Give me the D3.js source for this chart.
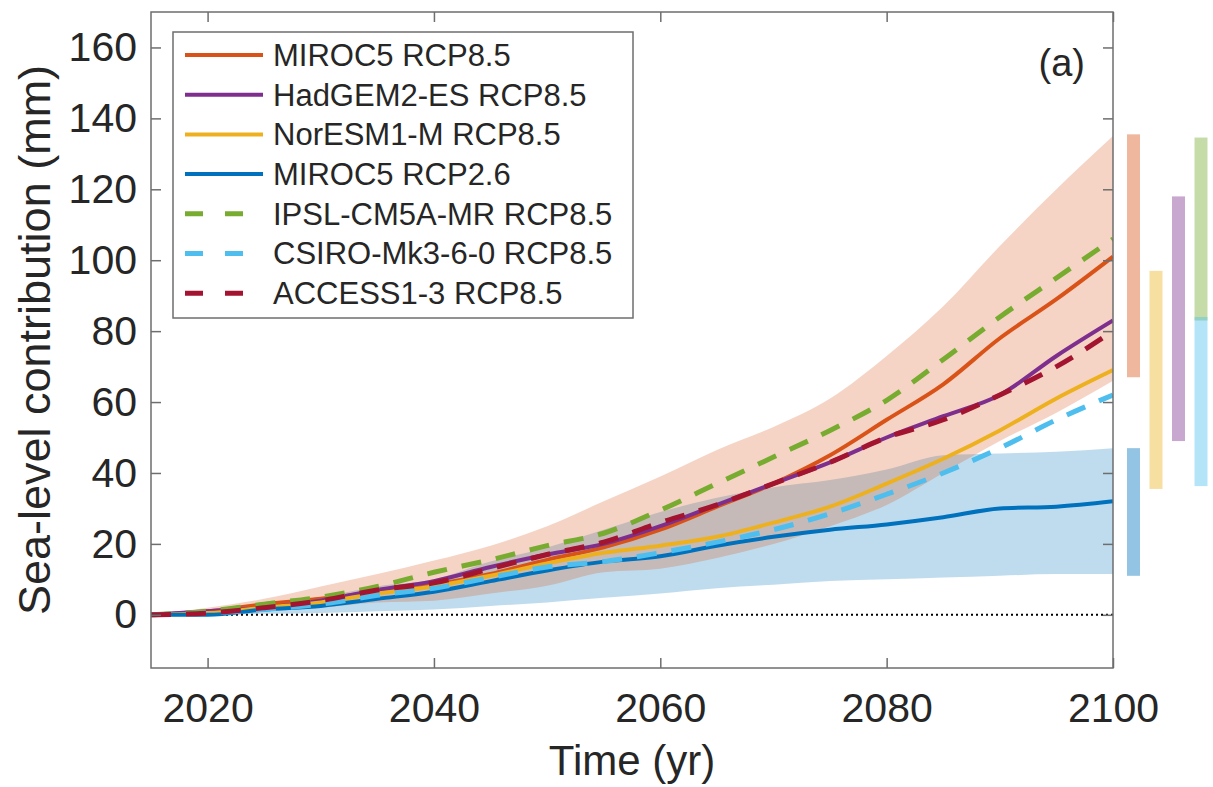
<!DOCTYPE html>
<html>
<head>
<meta charset="utf-8">
<script src="https://cdn.jsdelivr.net/npm/d3@7"></script>
<style>
  body { margin: 0; background: #fff; }
  svg { display: block; }
  text { font-family: "Liberation Sans", Arial, Helvetica, sans-serif; fill: #262626; }
</style>
</head>
<body>
<div id="chart"></div>
<script>
// values (mm), every 5 years
const years = [2015, 2020, 2025, 2030, 2035, 2040, 2045, 2050, 2055, 2060, 2065, 2070, 2075, 2080, 2085, 2090, 2095, 2100];

const miroc85  = [0, 1, 3, 4.5, 6.5, 8.5, 11.5, 15.5, 19, 24, 30.5, 37, 45, 55, 65, 78, 89, 101];
const hadgem85 = [0, 1, 2, 4, 7, 9.5, 13.5, 17, 20, 25, 31, 37, 43, 50, 56, 62, 73, 83];
const noresm85 = [0, 0.5, 2, 3.5, 6, 8, 11, 14.5, 17.5, 19.5, 22, 26, 30.5, 37, 44, 52, 61, 69];
const miroc26  = [0, 0, 1.5, 2.5, 4.5, 6.5, 9.5, 12.5, 15, 16.5, 19.5, 22, 24, 25.5, 27.5, 30, 30.5, 32];
const ipsl85   = [0, 1, 3, 5, 8, 12, 15.5, 19.5, 23, 29.5, 37, 44.5, 52, 60.5, 72, 84, 95, 106];
const csiro85  = [0, 0.5, 1.5, 3, 5.5, 7.5, 10.5, 13.5, 15, 17.5, 20.5, 24, 28.5, 34, 40, 47, 55, 62];
const access85 = [0, 0.5, 2, 4, 7, 9, 13, 17, 20.5, 26, 31, 37, 43, 50, 55, 62, 70, 80];

// ensemble ranges for MIROC5
const miroc85Upper = [0, 2, 4.5, 8, 11.5, 15.3, 19.5, 25, 32, 39, 46.5, 53, 61, 73, 87, 104, 120, 135];
const miroc85Lower = [0, 0.5, 1, 2, 3.5, 4, 6, 8.2, 12, 13, 16, 20, 25, 31, 40, 49, 57, 66];
const miroc26Upper = [0, 1.5, 3, 5, 8, 10, 15, 19, 24, 29, 33, 36, 38, 41, 45, 45.5, 46, 47];
const miroc26Lower = [0, 0, 0.3, 0.5, 1, 1.5, 2.5, 3.5, 4.8, 6, 7.5, 8.5, 9.5, 10, 10.5, 11, 11.5, 11.5];

// 2100 ranges shown as bars right of the axes: [low, high], slot
const barNames = ["MIROC5 RCP8.5", "MIROC5 RCP2.6", "NorESM1-M RCP8.5", "HadGEM2-ES RCP8.5", "IPSL-CM5A-MR RCP8.5", "CSIRO-Mk3-6-0 RCP8.5"];
const barLow   = [67, 11, 35.5, 49, 83, 36.3];
const barHigh  = [135.5, 47, 97, 118, 134.6, 84];
const barSlot  = [0, 0, 1, 2, 3, 3];

const xTicks = [2020, 2040, 2060, 2080, 2100];
const yTicks = [0, 20, 40, 60, 80, 100, 120, 140, 160];

const series = [
  { name: "MIROC5 RCP8.5",        values: miroc85,  color: "#D95319", dashed: false },
  { name: "HadGEM2-ES RCP8.5",    values: hadgem85, color: "#7E2F8E", dashed: false },
  { name: "NorESM1-M RCP8.5",     values: noresm85, color: "#EDB120", dashed: false },
  { name: "MIROC5 RCP2.6",        values: miroc26,  color: "#0072BD", dashed: false },
  { name: "IPSL-CM5A-MR RCP8.5",  values: ipsl85,   color: "#77AC30", dashed: true },
  { name: "CSIRO-Mk3-6-0 RCP8.5", values: csiro85,  color: "#4DBEEE", dashed: true },
  { name: "ACCESS1-3 RCP8.5",     values: access85, color: "#A2142F", dashed: true }
];

const barColors = {
  "MIROC5 RCP8.5": "#D95319",
  "MIROC5 RCP2.6": "#0072BD",
  "NorESM1-M RCP8.5": "#EDB120",
  "HadGEM2-ES RCP8.5": "#7E2F8E",
  "IPSL-CM5A-MR RCP8.5": "#77AC30",
  "CSIRO-Mk3-6-0 RCP8.5": "#4DBEEE"
};

const W = 1213, H = 787;
const margin = { top: 12, right: 100, bottom: 119, left: 151 };
const width = W - margin.left - margin.right;   // 962
const height = H - margin.top - margin.bottom;  // 656
const axisColor = "#6e6e6e";

const svg = d3.select("#chart").append("svg")
  .attr("width", W)
  .attr("height", H);

const g = svg.append("g")
  .attr("transform", `translate(${margin.left},${margin.top})`);

const x = d3.scaleLinear().domain([2015, 2100]).range([0, width]);
const y = d3.scaleLinear().domain([-15, 170]).range([height, 0]);

g.append("clipPath").attr("id", "plot-clip")
  .append("rect").attr("width", width).attr("height", height);

const plot = g.append("g").attr("clip-path", "url(#plot-clip)");

// shaded ranges: RCP2.6 first, RCP8.5 on top
const area = (lo, hi) => d3.area()
  .curve(d3.curveMonotoneX)
  .x((d, i) => x(years[i]))
  .y0((d, i) => y(lo[i]))
  .y1((d, i) => y(hi[i]))(years);

plot.append("path")
  .attr("d", area(miroc26Lower, miroc26Upper))
  .attr("fill", "#0072BD")
  .attr("fill-opacity", 0.25);

plot.append("path")
  .attr("d", area(miroc85Lower, miroc85Upper))
  .attr("fill", "#D95319")
  .attr("fill-opacity", 0.25);

// zero line
plot.append("line")
  .attr("x1", x(2015)).attr("x2", x(2100))
  .attr("y1", y(0)).attr("y2", y(0))
  .attr("stroke", "#000")
  .attr("stroke-width", 2)
  .attr("stroke-dasharray", "2,3");

const line = d3.line()
  .curve(d3.curveMonotoneX)
  .x((d, i) => x(years[i]))
  .y(d => y(d));

plot.selectAll(".series")
  .data(series)
  .enter()
  .append("path")
  .attr("class", "series")
  .attr("d", d => line(d.values))
  .attr("fill", "none")
  .attr("stroke", d => d.color)
  .attr("stroke-width", d => d.dashed ? 5 : 4)
  .attr("stroke-dasharray", d => d.dashed ? "20,15" : null)
  .attr("stroke-linejoin", "round");

// range bars outside the axes
const barW = 13, barGap = 22.5, barStart = width + 14;
g.selectAll(".range-bar")
  .data(barNames)
  .enter()
  .append("rect")
  .attr("class", "range-bar")
  .attr("x", (d, i) => barStart + barSlot[i] * barGap)
  .attr("width", barW)
  .attr("y", (d, i) => y(barHigh[i]))
  .attr("height", (d, i) => y(barLow[i]) - y(barHigh[i]))
  .attr("fill", d => barColors[d])
  .attr("fill-opacity", 0.42);

// axes, ticks pointing inwards on all four sides
const styleAxis = sel => {
  sel.select(".domain").remove();
  sel.selectAll(".tick line").attr("stroke", axisColor).attr("stroke-width", 1.5);
  sel.selectAll(".tick text").attr("font-size", 41).attr("fill", "#262626");
};

g.append("g")
  .attr("transform", `translate(0,${height})`)
  .call(d3.axisBottom(x).tickValues(xTicks).tickFormat(d3.format("d")).tickSize(-10).tickPadding(25))
  .call(styleAxis);

g.append("g")
  .call(d3.axisTop(x).tickValues(xTicks).tickFormat("").tickSize(-10))
  .call(styleAxis);

g.append("g")
  .call(d3.axisLeft(y).tickValues(yTicks).tickSize(-10).tickPadding(14))
  .call(styleAxis);

g.append("g")
  .attr("transform", `translate(${width},0)`)
  .call(d3.axisRight(y).tickValues(yTicks).tickFormat("").tickSize(-10))
  .call(styleAxis);

g.append("rect")
  .attr("width", width)
  .attr("height", height)
  .attr("fill", "none")
  .attr("stroke", axisColor)
  .attr("stroke-width", 1.5);

// axis labels
g.append("text")
  .attr("x", width / 2)
  .attr("y", height + 107)
  .attr("text-anchor", "middle")
  .attr("font-size", 42)
  .text("Time (yr)");

g.append("text")
  .attr("transform", `translate(${50 - margin.left},${height / 2}) rotate(-90)`)
  .attr("text-anchor", "middle")
  .attr("font-size", 45)
  .text("Sea-level contribution (mm)");

g.append("text")
  .attr("x", width - 28)
  .attr("y", 64)
  .attr("text-anchor", "end")
  .attr("font-family", "'Open Sans', sans-serif")
  .attr("font-size", 38)
  .text("(a)");

// legend
const legend = g.append("g").attr("transform", "translate(22,20)");
legend.append("rect")
  .attr("width", 460)
  .attr("height", 286)
  .attr("fill", "#fff")
  .attr("stroke", axisColor)
  .attr("stroke-width", 1.5);

const item = legend.selectAll(".legend")
  .data(series)
  .enter()
  .append("g")
  .attr("class", "legend")
  .attr("transform", (d, i) => `translate(0,${23 + i * 39.7})`);

item.append("line")
  .attr("x1", 12).attr("x2", 90)
  .attr("stroke", d => d.color)
  .attr("stroke-width", d => d.dashed ? 5 : 4)
  .attr("stroke-dasharray", d => d.dashed ? "18,22" : null);

item.append("text")
  .attr("x", 100)
  .attr("dy", "0.35em")
  .attr("font-size", 31)
  .text(d => d.name);
</script>
</body>
</html>
